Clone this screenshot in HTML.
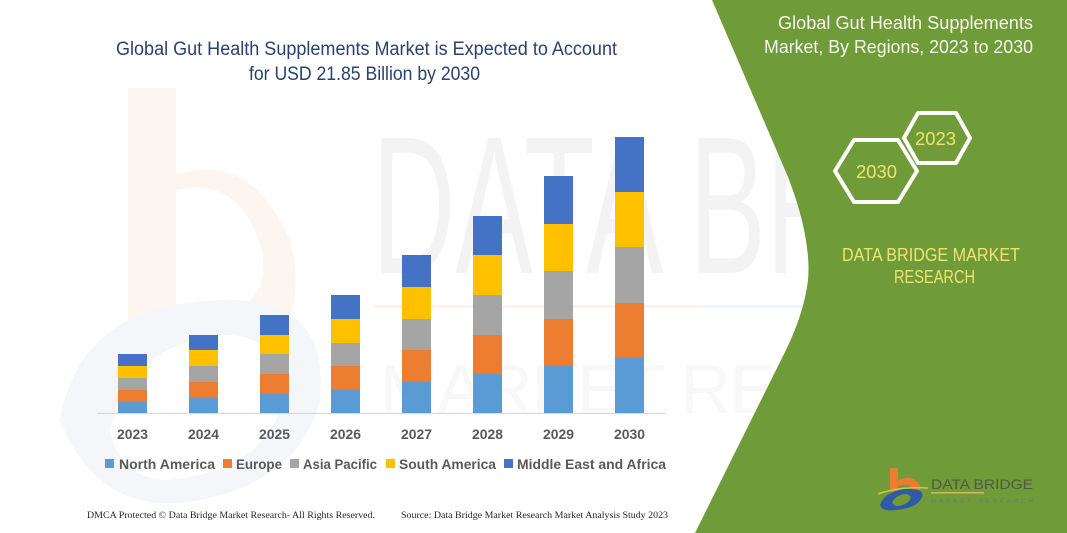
<!DOCTYPE html>
<html><head><meta charset="utf-8"><style>
html,body{margin:0;padding:0;background:#fff;}
svg{display:block;}
</style></head><body>
<svg width="1067" height="533" viewBox="0 0 1067 533" xmlns="http://www.w3.org/2000/svg">
<rect width="1067" height="533" fill="#ffffff"/>
<!-- faint watermark -->
<g>
  <path d="M128,88 L176,88 L176,175 Q250,150 290,240 Q305,300 280,330 L128,330 Z" fill="#fdf5f0"/>
  <path d="M176,190 Q240,175 262,250 Q270,300 230,310 L176,310 Z" fill="#ffffff"/>
  <path d="M60,420 Q80,300 230,300 Q330,300 320,400 Q300,480 200,500 Q100,520 60,420 Z" fill="#f4f6fa"/>
  <path d="M110,430 Q130,340 230,335 Q290,340 280,410 Q260,470 170,480 Q120,480 110,430 Z" fill="#ffffff"/>
  <text x="372" y="273" font-family="Liberation Sans, sans-serif" font-size="196" fill="#f3f3f3" textLength="760" lengthAdjust="spacingAndGlyphs">DATA BRIDGE</text>
  <rect x="373" y="305" width="330" height="3" fill="#fcf3ee"/>
  <rect x="703" y="305" width="300" height="3" fill="#f0f3f8"/>
  <text x="380" y="413" font-family="Liberation Sans, sans-serif" font-size="70" fill="#f8f8f8" textLength="680" lengthAdjust="spacing">MARKET RESEARCH</text>
</g>
<!-- green panel -->
<path d="M712,0 L1067,0 L1067,533 L695,533 L785,352 C796,330 805,305 808,280 C811,248 800,205 785,170 Z" fill="#709b39"/>
<!-- left title -->
<g font-family="Liberation Sans, sans-serif" font-size="19" fill="#2a4170">
  <text x="116" y="55" textLength="501" lengthAdjust="spacingAndGlyphs">Global Gut Health Supplements Market is Expected to Account</text>
  <text x="249" y="80" textLength="231" lengthAdjust="spacingAndGlyphs">for USD 21.85 Billion by 2030</text>
</g>
<!-- axis -->
<line x1="97" y1="413.5" x2="666" y2="413.5" stroke="#d9d9d9" stroke-width="1.2"/>
<!-- bars -->
<g>
  <rect x="118" y="402" width="29" height="11" fill="#5b9bd5"/>
  <rect x="118" y="390" width="29" height="12" fill="#ed7d31"/>
  <rect x="118" y="378" width="29" height="12" fill="#a5a5a5"/>
  <rect x="118" y="366" width="29" height="12" fill="#ffc000"/>
  <rect x="118" y="354" width="29" height="12" fill="#4472c4"/>
  <rect x="189" y="398" width="29" height="15" fill="#5b9bd5"/>
  <rect x="189" y="382" width="29" height="16" fill="#ed7d31"/>
  <rect x="189" y="366" width="29" height="16" fill="#a5a5a5"/>
  <rect x="189" y="350" width="29" height="16" fill="#ffc000"/>
  <rect x="189" y="335" width="29" height="15" fill="#4472c4"/>
  <rect x="260" y="394" width="29" height="19" fill="#5b9bd5"/>
  <rect x="260" y="374" width="29" height="20" fill="#ed7d31"/>
  <rect x="260" y="354" width="29" height="20" fill="#a5a5a5"/>
  <rect x="260" y="335" width="29" height="19" fill="#ffc000"/>
  <rect x="260" y="315" width="29" height="20" fill="#4472c4"/>
  <rect x="331" y="390" width="29" height="23" fill="#5b9bd5"/>
  <rect x="331" y="366" width="29" height="24" fill="#ed7d31"/>
  <rect x="331" y="343" width="29" height="23" fill="#a5a5a5"/>
  <rect x="331" y="319" width="29" height="24" fill="#ffc000"/>
  <rect x="331" y="295" width="29" height="24" fill="#4472c4"/>
  <rect x="402" y="382" width="29" height="31" fill="#5b9bd5"/>
  <rect x="402" y="350" width="29" height="32" fill="#ed7d31"/>
  <rect x="402" y="319" width="29" height="31" fill="#a5a5a5"/>
  <rect x="402" y="287" width="29" height="32" fill="#ffc000"/>
  <rect x="402" y="255" width="29" height="32" fill="#4472c4"/>
  <rect x="473" y="374" width="29" height="39" fill="#5b9bd5"/>
  <rect x="473" y="335" width="29" height="39" fill="#ed7d31"/>
  <rect x="473" y="295" width="29" height="40" fill="#a5a5a5"/>
  <rect x="473" y="255" width="29" height="40" fill="#ffc000"/>
  <rect x="473" y="216" width="29" height="39" fill="#4472c4"/>
  <rect x="544" y="366" width="29" height="47" fill="#5b9bd5"/>
  <rect x="544" y="319" width="29" height="47" fill="#ed7d31"/>
  <rect x="544" y="271" width="29" height="48" fill="#a5a5a5"/>
  <rect x="544" y="224" width="29" height="47" fill="#ffc000"/>
  <rect x="544" y="176" width="29" height="48" fill="#4472c4"/>
  <rect x="615" y="358" width="29" height="55" fill="#5b9bd5"/>
  <rect x="615" y="303" width="29" height="55" fill="#ed7d31"/>
  <rect x="615" y="247" width="29" height="56" fill="#a5a5a5"/>
  <rect x="615" y="192" width="29" height="55" fill="#ffc000"/>
  <rect x="615" y="137" width="29" height="55" fill="#4472c4"/>
</g>
<!-- year labels -->
<g font-family="Liberation Sans, sans-serif" font-size="13.5" font-weight="bold" fill="#595959">
  <text x="117" y="439" textLength="31" lengthAdjust="spacingAndGlyphs">2023</text>
  <text x="188" y="439" textLength="31" lengthAdjust="spacingAndGlyphs">2024</text>
  <text x="259" y="439" textLength="31" lengthAdjust="spacingAndGlyphs">2025</text>
  <text x="330" y="439" textLength="31" lengthAdjust="spacingAndGlyphs">2026</text>
  <text x="401" y="439" textLength="31" lengthAdjust="spacingAndGlyphs">2027</text>
  <text x="472" y="439" textLength="31" lengthAdjust="spacingAndGlyphs">2028</text>
  <text x="543" y="439" textLength="31" lengthAdjust="spacingAndGlyphs">2029</text>
  <text x="614" y="439" textLength="31" lengthAdjust="spacingAndGlyphs">2030</text>
</g>
<!-- legend -->
<g>
  <rect x="105" y="459" width="9" height="9" fill="#5b9bd5"/>
  <rect x="223" y="459" width="9" height="9" fill="#ed7d31"/>
  <rect x="290" y="459" width="9" height="9" fill="#a5a5a5"/>
  <rect x="386" y="459" width="9" height="9" fill="#ffc000"/>
  <rect x="504" y="459" width="9" height="9" fill="#4472c4"/>
</g>
<g font-family="Liberation Sans, sans-serif" font-size="13.5" font-weight="bold" fill="#595959">
  <text x="119" y="469" textLength="96" lengthAdjust="spacingAndGlyphs">North America</text>
  <text x="236" y="469" textLength="46" lengthAdjust="spacingAndGlyphs">Europe</text>
  <text x="303" y="469" textLength="74" lengthAdjust="spacingAndGlyphs">Asia Pacific</text>
  <text x="399" y="469" textLength="97" lengthAdjust="spacingAndGlyphs">South America</text>
  <text x="517" y="469" textLength="149" lengthAdjust="spacingAndGlyphs">Middle East and Africa</text>
</g>
<!-- footer -->
<g font-family="Liberation Serif, serif" font-size="9.5" fill="#262626">
  <text x="87" y="518" textLength="288" lengthAdjust="spacingAndGlyphs">DMCA Protected © Data Bridge Market Research-  All Rights Reserved.</text>
  <text x="401" y="518" textLength="267" lengthAdjust="spacingAndGlyphs">Source: Data Bridge Market Research  Market Analysis Study 2023</text>
</g>
<!-- right panel title -->
<g font-family="Liberation Sans, sans-serif" font-size="18" fill="#f4f6ee">
  <text x="778" y="29" textLength="255" lengthAdjust="spacingAndGlyphs">Global Gut Health Supplements</text>
  <text x="764" y="53" textLength="269" lengthAdjust="spacingAndGlyphs">Market, By Regions, 2023 to 2030</text>
</g>
<!-- hexagons -->
<g fill="none" stroke="#ffffff" stroke-width="4" stroke-linejoin="round">
  <polygon points="904,138 918,113 956,113 970,138 956,163 918,163"/>
  <polygon points="835,171 854,140 898,140 917,171 898,202 854,202"/>
</g>
<g font-family="Liberation Sans, sans-serif" font-size="18" fill="#f0e272">
  <text x="915" y="145" textLength="41" lengthAdjust="spacingAndGlyphs">2023</text>
  <text x="856" y="178" textLength="41" lengthAdjust="spacingAndGlyphs">2030</text>
  <text x="842" y="261" textLength="178" lengthAdjust="spacingAndGlyphs">DATA BRIDGE MARKET</text>
  <text x="894" y="283" textLength="81" lengthAdjust="spacingAndGlyphs">RESEARCH</text>
</g>
<!-- logo -->
<g>
  <path d="M890,468 L898,468 L898,480 Q914,474 920,486 L920,490 L913,490 Q910,482 898,486 L898,492 L890,492 Z" fill="#ee7c30"/>
  <path d="M880,505 Q884,492 905,489 Q925,488 922,497 Q918,508 896,510 Q882,512 880,505 Z" fill="#2f5aa8"/>
  <path d="M892,503 Q895,495 906,494 Q912,495 910,500 Q905,506 896,506 Z" fill="#709b39"/>
  <path d="M878,494 Q900,486 928,488" stroke="#d8c440" stroke-width="1.5" fill="none"/>
  <text x="931" y="489" font-family="Liberation Sans, sans-serif" font-size="14" fill="#4e5a44" textLength="102" lengthAdjust="spacingAndGlyphs">DATA BRIDGE</text>
  <rect x="931" y="492" width="53" height="1.5" fill="#c9c24a"/>
  <text x="931" y="503" font-family="Liberation Sans, sans-serif" font-size="6" fill="#6b7a5a" textLength="102" lengthAdjust="spacing">MARKET RESEARCH</text>
</g>
</svg>
</body></html>
